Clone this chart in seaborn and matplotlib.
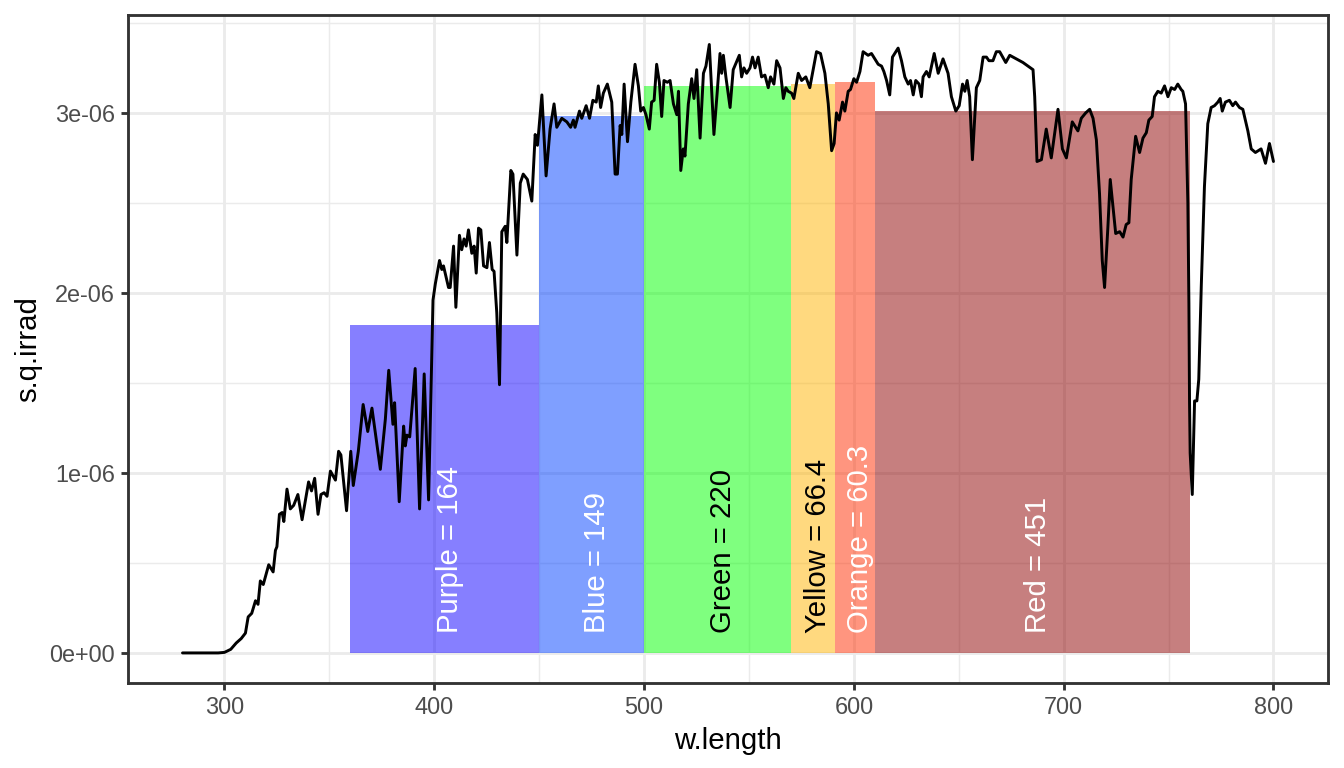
import numpy as np
import pandas as pd
import matplotlib
matplotlib.use("Agg")
import matplotlib.pyplot as plt
import matplotlib.transforms as mtransforms
import seaborn as sns
from matplotlib.ticker import MultipleLocator, FuncFormatter

# ---------------- data ----------------
w_length = [
    280, 290, 297, 300, 303, 305.6, 308, 310, 311.3, 313, 314.8, 316, 317.1, 318.5,
    321.1, 323.2, 324.3, 325, 326.2, 327.5, 328.3, 329.8, 331.4, 333, 335, 337,
    340.1, 341.5, 343, 344.6, 346, 347.5, 348.9, 350.5, 352.9, 354.4, 355.5, 358.2,
    360.2, 361.4, 363.8, 366.1, 368.3, 370.3, 374.3, 376.7, 378.3, 380.3, 381.1,
    383.3, 385.4, 386.2, 387.0, 388.3, 390.9, 393.0, 395.2, 397.3, 399.4, 400.5,
    402.5, 403.6, 404.4, 406.8, 407.6, 409.2, 410.3, 412.0, 413.1, 414.2, 415.2,
    416.3, 417.9, 419.0, 420.0, 421.1, 422.2, 423.5, 425.1, 426.3, 427.6, 428.5,
    429.8, 431.1, 432.2, 433.8, 434.6, 436.5, 437.5, 439.4, 441.0, 442.4, 444.4,
    446.5, 448.1, 449.2, 451.3, 453.3, 455.2, 457.1, 458.4, 460.8, 463.2, 465.0,
    466.3, 467.1, 469.2, 470.3, 472.4, 474.0, 475.6, 477.2, 478.2, 479.3, 480.6,
    482.5, 484.6, 486.2, 487.3, 488.6, 489.4, 490.5, 492.1, 493.7, 495.7, 497.3,
    498.4, 499.7, 500.9, 502.5, 503.6, 504.8, 506.0, 507.3, 508.4, 509.5, 511.1,
    512.4, 514.0, 515.6, 516.4, 517.5, 518.7, 519.5, 521.1, 522.7, 523.8, 525.1,
    526.7, 528.3, 529.5, 531.1, 533.3, 534.9, 536.2, 537.0, 537.8, 539.0, 541.0,
    542.5, 545.4, 546.5, 547.6, 548.9, 550.5, 551.7, 552.9, 554.4, 556.0, 557.6,
    559.2, 560.3, 561.9, 563.2, 564.8, 566.4, 567.6, 568.7, 570.3, 571.4, 573.5,
    575.1, 577.1, 579.0, 580.3, 582.2, 584.1, 586.2, 587.8, 589.4, 590.6, 591.7,
    593.0, 594.6, 595.7, 597.3, 598.4, 600.0, 601.3, 602.9, 604.4, 606.8, 608.4,
    610.0, 611.6, 613.2, 614.3, 615.6, 617.1, 618.4, 619.5, 621.1, 622.7, 624.3,
    625.9, 627.0, 628.3, 629.5, 631.1, 632.2, 633.0, 634.6, 635.9, 637.0, 638.3,
    640.2, 642.5, 644.9, 646.5, 648.6, 650.2, 651.8, 652.9, 654.0, 655.2, 656.5,
    658.4, 660.0, 661.6, 663.2, 664.4, 666.3, 667.9, 669.5, 672.4, 674.3, 677.5,
    680.6, 683.0, 685.4, 686.2, 687.3, 689.4, 691.7, 694.1, 697.3, 699.4, 701.3,
    704.1, 706.8, 708.4, 710.5, 712.4, 714.0, 715.6, 717.1, 718.4, 719.5, 721.1,
    722.2, 723.5, 724.8, 726.7, 728.3, 729.8, 731.1, 732.2, 734.3, 736.2, 737.8,
    739.4, 740.6, 742.2, 743.3, 744.9, 746.5, 748.1, 749.7, 751.3, 752.9, 754.4,
    756.0, 756.8, 758.1, 759.2, 759.7, 760.0, 760.3, 761.3, 762.4, 763.5, 764.4,
    765.6, 767.1, 768.7, 770.3, 771.9, 773.5, 774.6, 775.6, 777.1, 779.0, 780.6,
    781.9, 783.8, 785.4, 787.8, 789.4, 791.4, 794.1, 796.2, 798.1, 800.0,
]
s_q_irrad_e6 = [
    0, 0, 0, 0.003, 0.02, 0.055, 0.08, 0.11, 0.20, 0.22, 0.29, 0.27, 0.40, 0.38,
    0.49, 0.45, 0.57, 0.59, 0.77, 0.78, 0.73, 0.91, 0.80, 0.82, 0.88, 0.74,
    0.95, 0.90, 0.97, 0.77, 0.88, 0.89, 0.87, 1.01, 0.96, 1.12, 1.10, 0.79,
    1.12, 0.93, 1.12, 1.38, 1.23, 1.36, 1.02, 1.30, 1.57, 1.27, 1.39,
    0.84, 1.26, 1.15, 1.21, 1.20, 1.58, 0.80, 1.55, 0.85, 1.96, 2.05,
    2.18, 2.13, 2.15, 2.03, 2.03, 2.26, 1.92, 2.32, 2.24, 2.30, 2.26,
    2.35, 2.22, 2.26, 2.11, 2.36, 2.35, 2.15, 2.14, 2.28, 2.13, 2.12,
    1.89, 1.49, 2.34, 2.37, 2.28, 2.68, 2.66, 2.21, 2.61, 2.66, 2.63,
    2.51, 2.88, 2.82, 3.10, 2.65, 2.91, 3.05, 2.92, 2.97, 2.95, 2.92,
    2.96, 2.92, 3.01, 2.97, 3.04, 2.97, 3.07, 3.06, 3.15, 3.03, 3.11,
    3.16, 3.06, 2.66, 2.66, 2.93, 2.88, 3.16, 2.84, 3.06, 3.27, 3.15,
    3.01, 3.03, 2.99, 2.91, 3.06, 3.07, 3.27, 3.17, 2.98, 3.18, 3.17,
    3.18, 3.05, 2.99, 3.12, 2.68, 2.80, 2.76, 3.05, 3.19, 3.08, 3.24,
    2.86, 3.22, 3.26, 3.38, 2.88, 3.12, 3.33, 3.22, 3.32, 3.20, 3.03,
    3.24, 3.32, 3.20, 3.25, 3.22, 3.25, 3.31, 3.25, 3.31, 3.20, 3.21,
    3.14, 3.20, 3.16, 3.29, 3.25, 3.08, 3.14, 3.12, 3.11, 3.08, 3.22,
    3.18, 3.20, 3.14, 3.22, 3.34, 3.33, 3.22, 3.05, 2.79, 2.83, 3.00,
    2.96, 3.06, 3.01, 3.12, 3.13, 3.19, 3.17, 3.23, 3.34, 3.32, 3.33,
    3.30, 3.27, 3.26, 3.23, 3.18, 3.10, 3.31, 3.33, 3.36, 3.29, 3.20,
    3.16, 3.18, 3.10, 3.18, 3.16, 3.09, 3.20, 3.23, 3.20, 3.26, 3.33,
    3.22, 3.30, 3.22, 3.09, 3.01, 3.04, 3.16, 3.12, 3.18, 3.09, 2.74,
    3.14, 3.18, 3.31, 3.31, 3.29, 3.29, 3.34, 3.34, 3.28, 3.32, 3.30,
    3.28, 3.26, 3.24, 3.09, 2.73, 2.74, 2.91, 2.75, 3.02, 2.80, 2.75,
    2.95, 2.90, 2.97, 3.00, 3.02, 2.97, 2.85, 2.55, 2.18, 2.03, 2.37,
    2.63, 2.48, 2.33, 2.34, 2.31, 2.38, 2.39, 2.63, 2.87, 2.78, 2.86,
    2.89, 2.96, 2.98, 3.09, 3.12, 3.11, 3.15, 3.09, 3.14, 3.13, 3.16,
    3.13, 3.12, 3.05, 2.50, 1.94, 1.39, 1.11, 0.88, 1.40, 1.40, 1.52,
    2.04, 2.59, 2.94, 3.03, 3.04, 3.06, 3.08, 3.01, 3.06, 3.07, 3.04,
    3.06, 3.03, 3.02, 2.90, 2.80, 2.78, 2.80, 2.72, 2.83, 2.73,
]

band_names = ["Purple", "Blue", "Green", "Yellow", "Orange", "Red"]
band_low = [360, 450, 500, 570, 591, 610]
band_high = [450, 500, 570, 591, 610, 760]
band_mean_e6 = [1.822, 2.983, 3.150, 3.161, 3.172, 3.011]
band_value_text = ["164", "149", "220", "66.4", "60.3", "451"]
band_colors = ["#0E00FF", "#0040FF", "#00FF00", "#FFB400", "#FF2D00", "#8E0000"]
band_text_colors = ["white", "white", "black", "black", "white", "white"]

df = pd.DataFrame({"w.length": w_length,
                   "s.q.irrad": np.array(s_q_irrad_e6) * 1e-6})

# ---------------- style ----------------
sns.set_theme(style="white")
plt.rcParams["font.family"] = ["Liberation Sans", "DejaVu Sans"]

fig, ax = plt.subplots(figsize=(7, 4), dpi=192)
fig.subplots_adjust(left=0.0952, right=0.9881, top=0.9805, bottom=0.1107)

ax.set_xlim(254, 826)
ax.set_ylim(-0.167e-6, 3.544e-6)

ax.xaxis.set_major_locator(MultipleLocator(100))
ax.xaxis.set_minor_locator(MultipleLocator(50))
ax.yaxis.set_major_locator(MultipleLocator(1e-6))
ax.yaxis.set_minor_locator(MultipleLocator(0.5e-6))
ax.grid(which="major", color="#EBEBEB", linewidth=1.07)
ax.grid(which="minor", color="#EBEBEB", linewidth=0.53)
ax.set_axisbelow(True)

ylabels = {0: "0e+00", 1: "1e-06", 2: "2e-06", 3: "3e-06"}
ax.yaxis.set_major_formatter(FuncFormatter(
    lambda v, p: ylabels.get(int(round(v * 1e6)), "")))

ax.tick_params(axis="both", which="major", length=2.75, width=1.07,
               color="#333333", labelcolor="#4D4D4D", labelsize=8.8, pad=2.2,
               bottom=True, left=True)
ax.tick_params(axis="both", which="minor", length=0)
for sp in ax.spines.values():
    sp.set_color("#333333")
    sp.set_linewidth(1.07)

# bands
heights = np.array(band_mean_e6) * 1e-6
widths = np.array(band_high) - np.array(band_low)
ax.bar(band_low, heights, width=widths, align="edge",
       color=band_colors, alpha=0.5, linewidth=0, zorder=2)

text_tr = mtransforms.offset_copy(ax.transData, fig=fig, x=2.0, y=0, units="points")
for lo, hi, name, val, tc in zip(band_low, band_high, band_names,
                                 band_value_text, band_text_colors):
    ax.text((lo + hi) / 2, 0.11e-6, f"{name} = {val}", rotation=90,
            rotation_mode="anchor", ha="left", va="center", color=tc,
            fontsize=11, zorder=4, transform=text_tr)

sns.lineplot(data=df, x="w.length", y="s.q.irrad", ax=ax, color="black",
             linewidth=1.1, estimator=None, sort=False, zorder=3)

ax.set_xlabel("w.length", fontsize=11, color="black", labelpad=3)
ax.set_ylabel("s.q.irrad", fontsize=11, color="black", labelpad=2.5)

fig.savefig("out.png", dpi=192)
